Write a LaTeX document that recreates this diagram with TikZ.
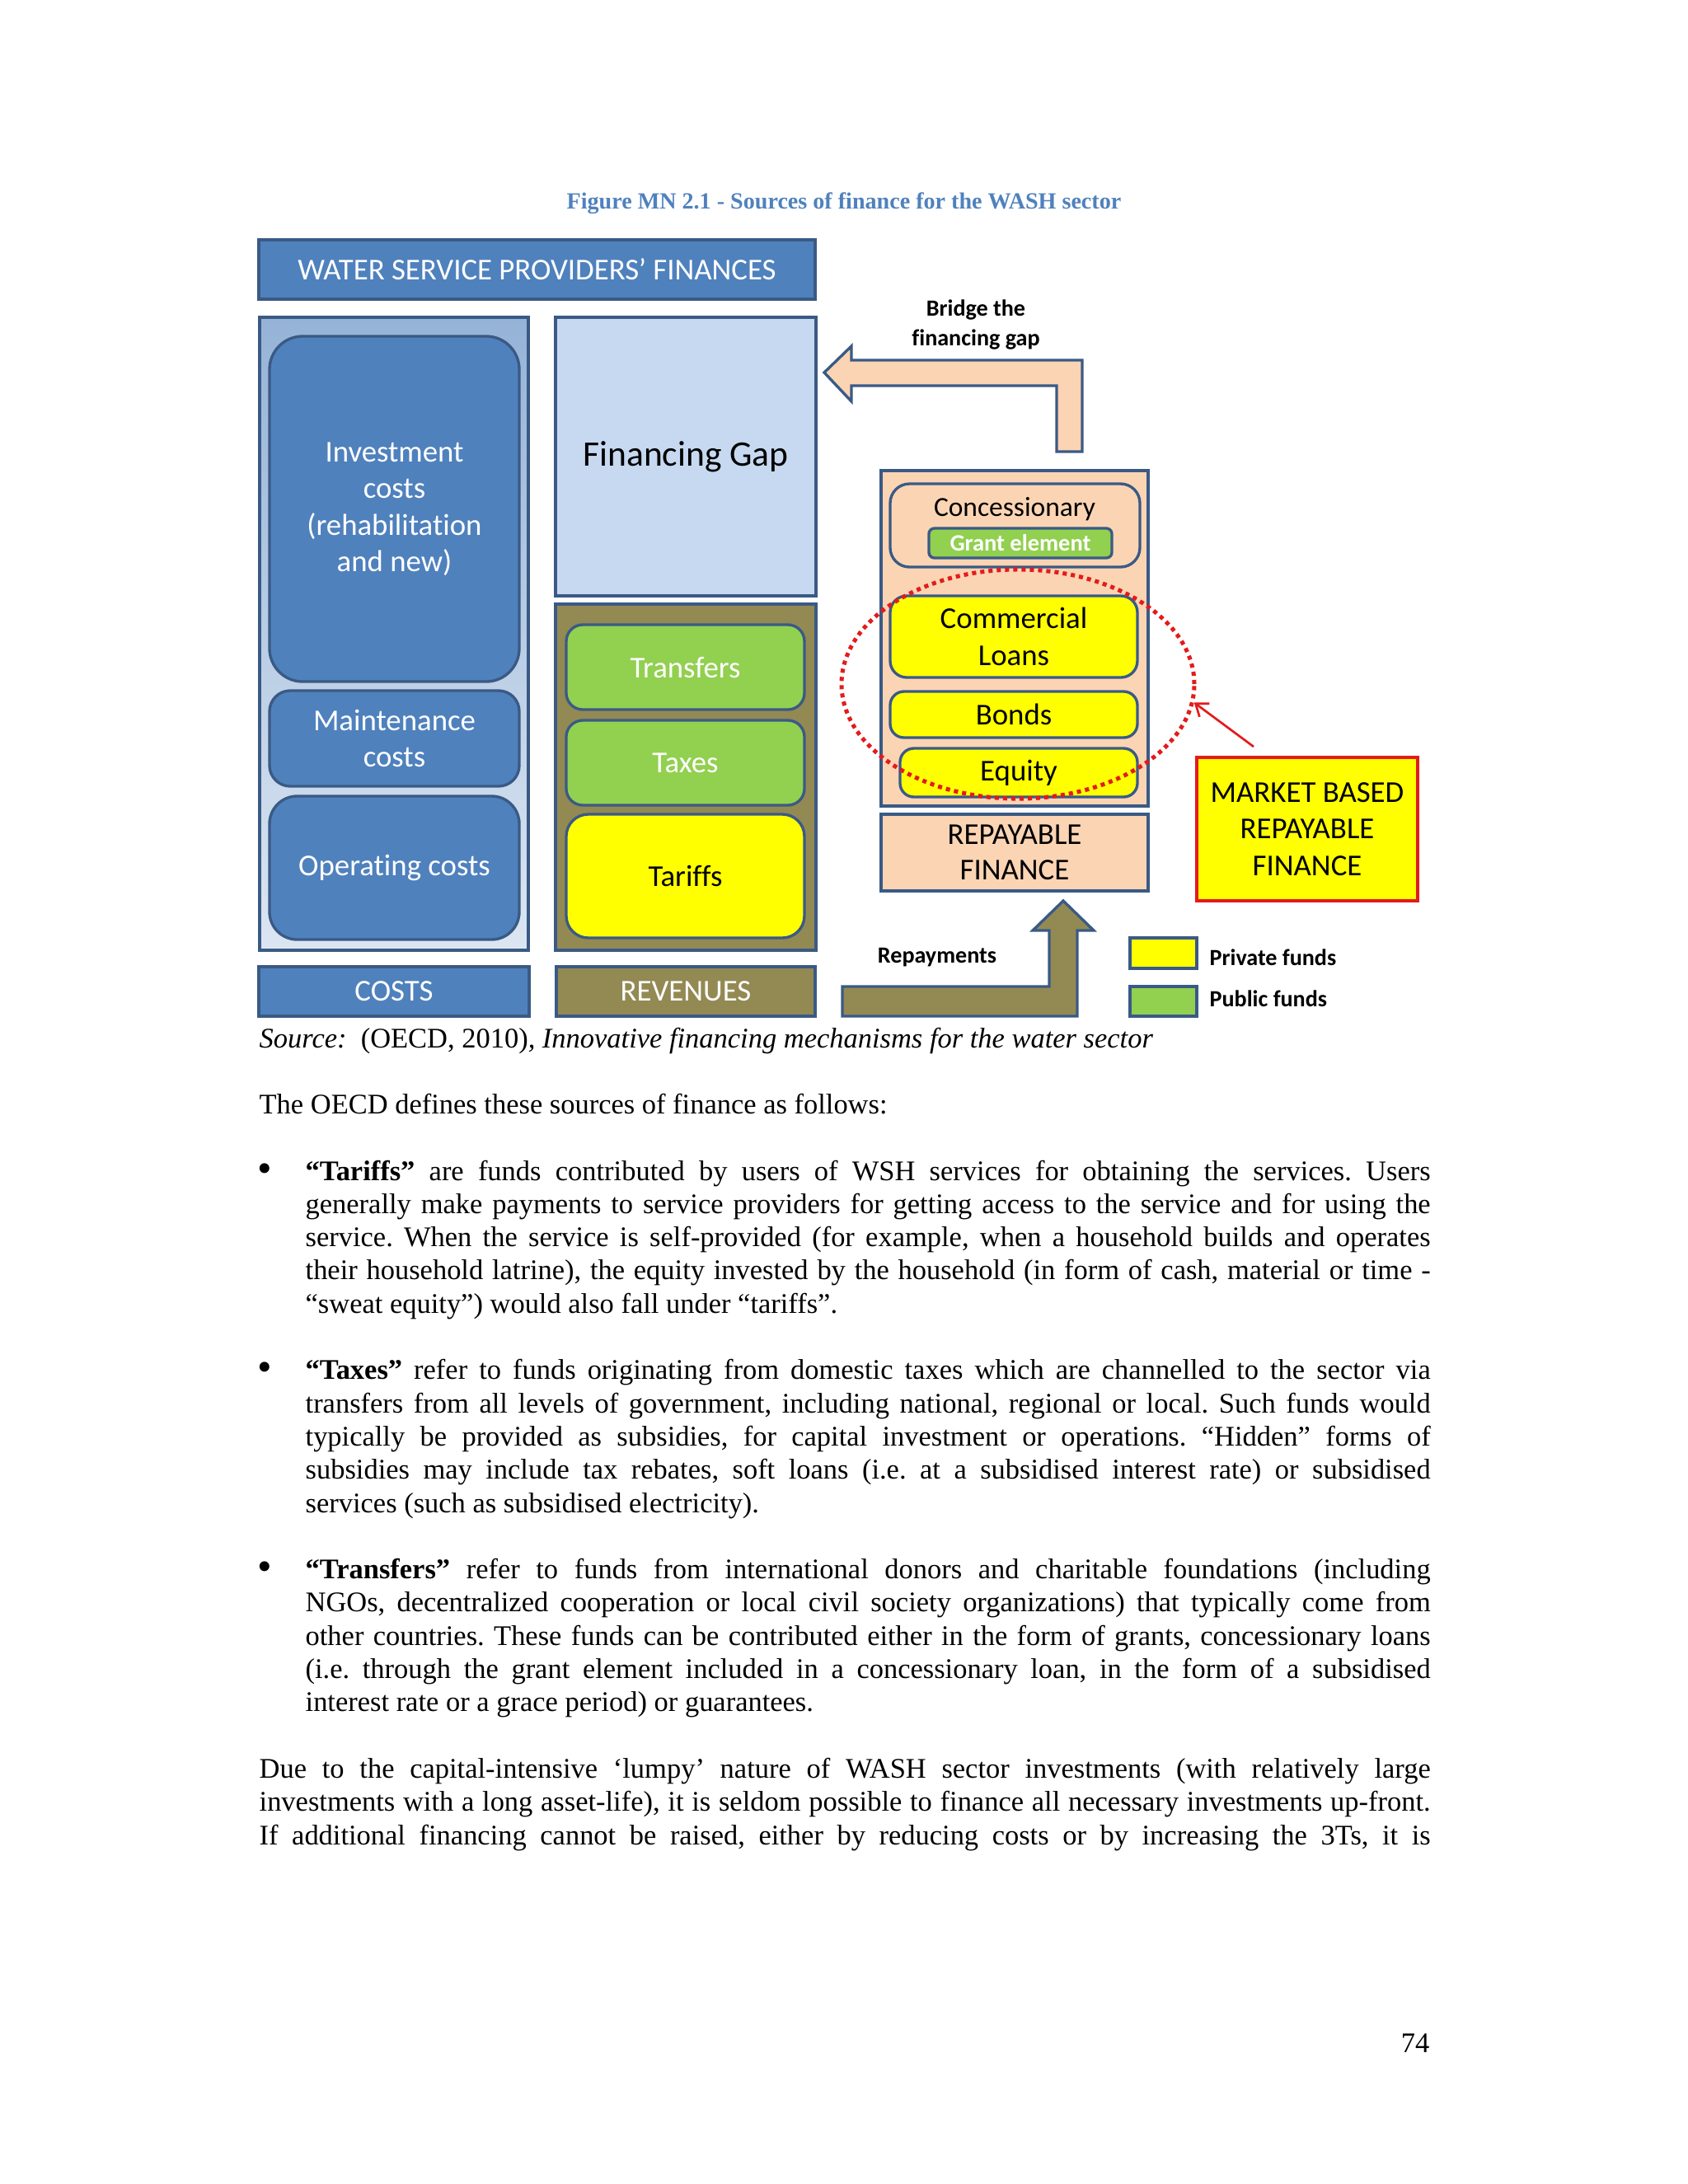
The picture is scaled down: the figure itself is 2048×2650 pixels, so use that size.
\documentclass[tikz,border=0pt]{standalone}
\usepackage{fontspec}
\setmainfont{Liberation Serif}
\newfontfamily\calfont[RawFeature={-liga}]{Carlito}
\usetikzlibrary{arrows.meta,shapes.geometric}
\newdimen\pxu \pxu=0.298828pt
\definecolor{hdrblue}{HTML}{4F81BD}
\definecolor{bord}{HTML}{3A5A85}
\definecolor{gapblue}{HTML}{C6D9F1}
\definecolor{olive}{HTML}{938953}
\definecolor{grn}{HTML}{92D050}
\definecolor{peach}{HTML}{FBD4B4}
\definecolor{yel}{HTML}{FFFF00}
\definecolor{capblue}{HTML}{4F81BD}
\definecolor{lbtop}{HTML}{95B3D7}
\definecolor{lbbot}{HTML}{DCE6F2}
\definecolor{mred}{HTML}{E31B1B}
\frenchspacing
\newcommand\bx[7][]{%
 \pgfmathsetmacro\bxcx{(#3+#5)/2}%
 \pgfmathsetmacro\bxcy{(#4+#6)/2}%
 \pgfmathsetmacro\bxw{(#5-#3)*0.298828}%
 \pgfmathsetmacro\bxh{(#6-#4)*0.298828}%
 \node[boxbase,#1,minimum width=\bxw pt,minimum height=\bxh pt] (#2) at (\bxcx,\bxcy) {#7};}
\newcommand\jl[5]{\node[bodytxt,anchor=base west] (#1) at (#2,#3) {\makebox[#4\pxu][s]{#5}};}
\newcommand\lastl[4]{\node[bodytxt,anchor=base west] (#1) at (#2,#3) {#4};}
\tikzset{
 boxbase/.style={inner sep=0pt,align=center,draw=bord,line width=1pt,
   font=\calfont\fontsize{11}{13.3}\selectfont},
 bluebox/.style={fill=hdrblue,text=white},
 greenbox/.style={fill=grn,text=white},
 yelbox/.style={fill=yel,text=black},
 peachbox/.style={fill=peach,text=black},
 olivebox/.style={fill=olive,text=white},
 smallbold/.style={inner sep=0pt,align=center,font=\calfont\bfseries\fontsize{8.4}{10.5}\selectfont},
 bodytxt/.style={inner sep=0pt,font=\fontsize{10.3}{12}\selectfont\frenchspacing},
 bulletmark/.style={inner sep=0pt,font=\fontsize{15}{15}\selectfont},
 blockarrow/.style={draw=bord,line width=1pt,line join=miter}
}
\begin{document}
\begin{tikzpicture}[x=0.298828pt,y=-0.298828pt]
\useasboundingbox (0,0) rectangle (2048,2650);
% caption
\node[inner sep=0pt,anchor=base,text=capblue,font=\bfseries\fontsize{8.4}{10}\selectfont] (cap) at (1024,253) {Figure MN 2.1 - Sources of finance for the WASH sector};
% header
\bx[bluebox]{hdr}{314}{291}{989}{363}{WATER SERVICE PROVIDERS’ FINANCES}
% costs column
\bx[top color=lbtop,bottom color=lbbot]{costcol}{315}{385}{641}{1153}{}
\bx[bluebox,rounded corners=12pt]{inv}{327}{408}{630}{827}{Investment\\costs\\(rehabilitation\\and new)}
\bx[bluebox,rounded corners=7.5pt]{maint}{327}{838}{630}{954}{Maintenance\\costs}
\bx[bluebox,rounded corners=10pt]{oper}{327}{966}{630}{1140}{Operating costs}
% gap and revenues
\bx[fill=gapblue,font=\calfont\fontsize{13}{15}\selectfont]{gap}{674}{385}{990}{723}{Financing Gap}
\bx[olivebox]{revcol}{674}{733}{990}{1153}{}
\bx[greenbox,rounded corners=6pt]{transf}{687}{758}{976}{861}{Transfers}
\bx[greenbox,rounded corners=6pt]{taxes}{687}{874}{976}{977}{Taxes}
\bx[yelbox,rounded corners=8pt]{tariffs}{687}{988}{976}{1138}{Tariffs}
% bottom labels
\bx[bluebox]{costs}{314}{1173}{642}{1233}{COSTS}
\bx[olivebox,text=white]{revenues}{675}{1173}{989}{1233}{REVENUES}
% finance column
\bx[peachbox]{fincol}{1069}{571}{1393}{978}{}
\bx[peachbox,rounded corners=7pt]{conc}{1080}{587}{1383}{688}{}
\node[inner sep=0pt,font=\calfont\fontsize{10}{12}\selectfont] (conct) at (1231,618) {Concessionary};
\bx[greenbox,rounded corners=2pt,font=\calfont\bfseries\fontsize{8.5}{10}\selectfont]{grant}{1127}{641}{1349}{677}{Grant element}
\bx[yelbox,rounded corners=6pt]{comm}{1080}{723}{1380}{822}{Commercial\\Loans}
\bx[yelbox,rounded corners=5pt]{bonds}{1080}{839}{1380}{895}{Bonds}
\bx[yelbox,rounded corners=5pt]{equity}{1092}{908}{1380}{967}{Equity}
\bx[peachbox,font=\calfont\fontsize{11}{12.9}\selectfont]{repay}{1069}{988}{1393}{1081}{REPAYABLE\\FINANCE}
\bx[yelbox,draw=mred,line width=1.3pt]{market}{1452}{919}{1720}{1093}{MARKET BASED\\REPAYABLE\\FINANCE}
% dotted ellipse
\node[ellipse,draw=mred,line width=1.5pt,dash pattern=on 1.5pt off 1.5pt,inner sep=0pt,
  minimum width=127.9pt,minimum height=83.1pt] (ell) at (1235,830) {};
\coordinate (redstart) at (1521,906);
\draw[mred,line width=0.8pt,-{Straight Barb[length=4pt,width=6pt]}] (redstart) -- (ell.-6);
% bridge arrow
\draw[blockarrow,fill=peach] (1000,452) -- (1033,420) -- (1033,437) -- (1313,437) -- (1313,548)
  -- (1282,548) -- (1282,468) -- (1033,468) -- (1033,487) -- cycle;
\node[smallbold] (bridge) at (1184,394) {Bridge the\\financing gap};
% repayments arrow
\draw[blockarrow,fill=olive] (1022,1197) -- (1273,1197) -- (1273,1129) -- (1253,1129) -- (1290,1093)
  -- (1327,1129) -- (1307,1129) -- (1307,1233) -- (1022,1233) -- cycle;
\node[smallbold] (repayt) at (1137,1162) {Repayments};
% legend
\bx[yelbox]{legy}{1371}{1138}{1452}{1175}{}
\bx[greenbox]{legg}{1371}{1197}{1452}{1233}{}
\node[smallbold,anchor=west] (legyt) at (1467,1162) {Private funds};
\node[smallbold,anchor=west] (leggt) at (1467,1212) {Public funds};
% source
\lastl{src}{314}{1271}{\textit{Source:}\ \ (OECD, 2010)\textit{, Innovative financing mechanisms for the water sector}}
\lastl{intro}{314}{1351.4}{The OECD defines these sources of finance as follows:}
% bullets
\node[bulletmark,anchor=base] (bu1) at (321,1434) {•};
\node[bulletmark,anchor=base] (bu2) at (321,1675.8) {•};
\node[bulletmark,anchor=base] (bu3) at (321,1917.6) {•};
\jl{a1}{370}{1432}{1365}{\textbf{“Tariffs”} are funds contributed by users of WSH services for obtaining the services. Users}
\jl{a2}{370}{1472.3}{1365}{generally make payments to service providers for getting access to the service and for using the}
\jl{a3}{370}{1512.6}{1365}{service. When the service is self-provided (for example, when a household builds and operates}
\jl{a4}{370}{1552.9}{1365}{their household latrine), the equity invested by the household (in form of cash, material or time -}
\lastl{a5}{370}{1593.2}{“sweat equity”) would also fall under “tariffs”.}
\jl{b1}{370}{1673.8}{1365}{\textbf{“Taxes”} refer to funds originating from domestic taxes which are channelled to the sector via}
\jl{b2}{370}{1714.1}{1365}{transfers from all levels of government, including national, regional or local. Such funds would}
\jl{b3}{370}{1754.4}{1365}{typically be provided as subsidies, for capital investment or operations. “Hidden” forms of}
\jl{b4}{370}{1794.7}{1365}{subsidies may include tax rebates, soft loans (i.e. at a subsidised interest rate) or subsidised}
\lastl{b5}{370}{1835}{services (such as subsidised electricity).}
\jl{c1}{370}{1915.6}{1365}{\textbf{“Transfers”} refer to funds from international donors and charitable foundations (including}
\jl{c2}{370}{1955.9}{1365}{NGOs, decentralized cooperation or local civil society organizations) that typically come from}
\jl{c3}{370}{1996.2}{1365}{other countries. These funds can be contributed either in the form of grants, concessionary loans}
\jl{c4}{370}{2036.5}{1365}{(i.e. through the grant element included in a concessionary loan, in the form of a subsidised}
\lastl{c5}{370}{2076.8}{interest rate or a grace period) or guarantees.}
\jl{d1}{314}{2157.4}{1421}{Due to the capital-intensive ‘lumpy’ nature of WASH sector investments (with relatively large}
\jl{d2}{314}{2197.7}{1421}{investments with a long asset-life), it is seldom possible to finance all necessary investments up-front.}
\jl{d3}{314}{2238}{1421}{If additional financing cannot be raised, either by reducing costs or by increasing the 3Ts, it is}
\node[bodytxt,anchor=base east] (pnum) at (1735,2490) {74};
\end{tikzpicture}
\end{document}
